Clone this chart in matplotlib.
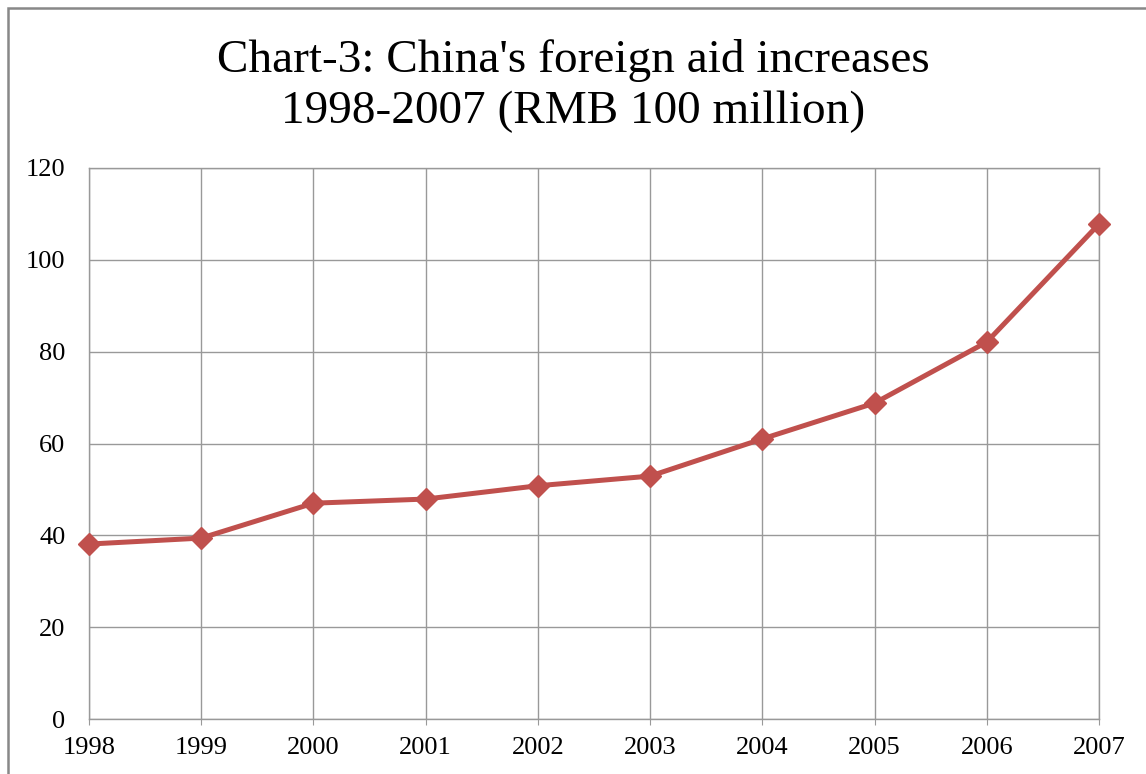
import matplotlib
matplotlib.use('Agg')
import matplotlib.pyplot as plt
from matplotlib.patches import Rectangle

years = ['1998', '1999', '2000', '2001', '2002', '2003', '2004', '2005', '2006', '2007']
aid = [38.1, 39.4, 47.0, 47.9, 50.8, 52.9, 61.0, 68.8, 82.1, 107.8]
yticks = [0, 20, 40, 60, 80, 100, 120]

plt.rcParams['font.family'] = ['Liberation Serif', 'DejaVu Serif']

fig = plt.figure(figsize=(11.46, 7.74), dpi=100)
ax = fig.add_axes([89 / 1146, 1 - 719 / 774, (1099 - 89) / 1146, (719 - 168) / 774])

x = range(len(years))
ax.plot(x, aid, color='#C0504D', linewidth=3.6, marker='D', markersize=11,
        markeredgecolor='#C0504D', clip_on=False, zorder=3)

ax.set_xlim(0, len(years) - 1)
ax.set_ylim(0, 120)
ax.set_xticks(list(x))
ax.set_xticklabels(years)
ax.set_yticks(yticks)
ax.tick_params(axis='both', labelsize=19, length=4, color='#999999')
ax.tick_params(axis='x', pad=9)
ax.tick_params(axis='y', length=0, pad=17)
ax.grid(True, color='#999999', linewidth=1)
for s in ax.spines.values():
    s.set_color('#999999')
    s.set_linewidth(1)

fig.text(0.5, 1 - 60 / 774, "Chart-3: China's foreign aid increases", ha='center', va='center', fontsize=34)
fig.text(0.5, 1 - 112 / 774, "1998-2007 (RMB 100 million)", ha='center', va='center', fontsize=34)

# chart border
fig.patches.append(Rectangle((8 / 1146, -0.05), 1.1, 1 - 8 / 774 + 0.05, transform=fig.transFigure,
                             fill=False, edgecolor='#888888', linewidth=1.8))

fig.savefig('out.png', dpi=100)
